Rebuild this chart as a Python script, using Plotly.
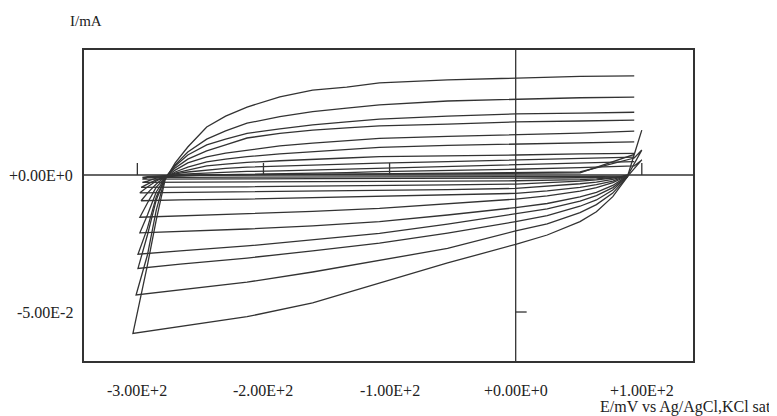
import plotly.graph_objects as go

# ---- data (E in mV, I in mA) ----
E_UPPER = [-292, -285, -278, -270, -260, -245, -230, -213, -187, -161, -134, -108, -54, 0, 51, 94, 100]
E_LOWER = [100, 89, 85, 77, 64, 51, 25, 0, -54, -108, -161, -213, -266]
E_VERTEX = [-303.5, -301, -299.5, -299.5, -298, -298, -297, -298, -297, -296, -296, -296]
I_VERTEX = [-0.0578, -0.0438, -0.0341, -0.0289, -0.0211, -0.0154, -0.0094, -0.0065, -0.0045, -0.0027, -0.0015, -0.0009]

lo1 = [None, -0.0004, -0.0029, -0.0079, -0.0134, -0.0170, -0.0219, -0.0253, -0.0321, -0.0395, -0.0467, -0.0517, -0.0554]
up1 = [-0.0329, -0.0164, -0.0018, 0.0044, 0.0102, 0.0175, 0.0215, 0.0248, 0.0285, 0.0310, 0.0321, 0.0336, 0.0347, 0.0355, 0.0360, 0.0362, None]
lo2 = [None, -0.0004, -0.0024, -0.0066, -0.0108, -0.0137, -0.0178, -0.0204, -0.0268, -0.0310, -0.0354, -0.0391, -0.0420]
up2 = [-0.0292, -0.0128, -0.0011, 0.0037, 0.0084, 0.0131, 0.0161, 0.0189, 0.0213, 0.0231, 0.0244, 0.0256, 0.0270, 0.0276, 0.0282, 0.0284, None]
lo3 = [None, -0.0004, -0.0020, -0.0055, -0.0091, -0.0114, -0.0148, -0.0170, -0.0212, -0.0249, -0.0277, -0.0303, -0.0325]
up3 = [-0.0219, -0.0091, -0.0011, 0.0033, 0.0073, 0.0110, 0.0131, 0.0152, 0.0168, 0.0183, 0.0194, 0.0204, 0.0215, 0.0223, 0.0226, 0.0229, None]
lo4 = [None, -0.0004, -0.0017, -0.0046, -0.0075, -0.0095, -0.0124, -0.0142, -0.0179, -0.0213, -0.0237, -0.0259, -0.0277]
up4 = [-0.0194, -0.0080, -0.0011, 0.0026, 0.0058, 0.0088, 0.0110, 0.0135, 0.0152, 0.0164, 0.0172, 0.0179, 0.0186, 0.0194, 0.0197, 0.0200, None]
lo5 = [None, -0.0004, -0.0014, -0.0038, -0.0063, -0.0080, -0.0104, -0.0119, -0.0146, -0.0170, -0.0186, -0.0197, -0.0206]
up5 = [-0.0146, -0.0062, -0.0011, 0.0018, 0.0044, 0.0066, 0.0080, 0.0091, 0.0106, 0.0116, 0.0126, 0.0134, 0.0141, 0.0146, 0.0153, 0.0160, None]
lo6 = [None, -0.0004, -0.0011, -0.0028, -0.0046, -0.0059, -0.0076, -0.0088, -0.0106, -0.0122, -0.0133, -0.0142, -0.0150]
up6 = [-0.0102, -0.0044, -0.0011, 0.0011, 0.0029, 0.0048, 0.0058, 0.0067, 0.0077, 0.0085, 0.0093, 0.0101, 0.0108, 0.0112, 0.0117, 0.0121, None]
lo7 = [None, -0.0004, -0.0008, -0.0022, -0.0035, -0.0045, -0.0058, -0.0067, -0.0073, -0.0078, -0.0084, -0.0088, -0.0091]
up7 = [-0.0066, -0.0033, -0.0007, 0.0007, 0.0018, 0.0033, 0.0040, 0.0046, 0.0052, 0.0058, 0.0062, 0.0067, 0.0069, 0.0073, 0.0077, 0.0079, None]
lo8 = [None, -0.0004, -0.0006, -0.0016, -0.0026, -0.0032, -0.0042, -0.0049, -0.0053, -0.0056, -0.0058, -0.0061, -0.0063]
up8 = [-0.0044, -0.0022, -0.0007, 0.0004, 0.0011, 0.0018, 0.0024, 0.0029, 0.0033, 0.0037, 0.0040, 0.0043, 0.0049, 0.0055, 0.0060, 0.0065, None]
lo9 = [None, -0.0004, -0.0004, -0.0011, -0.0018, -0.0022, -0.0028, -0.0033, -0.0036, -0.0039, -0.0041, -0.0043, -0.0044]
up9 = [-0.0033, -0.0018, -0.0007, 0.0000, 0.0004, 0.0007, 0.0010, 0.0013, 0.0015, 0.0018, 0.0021, 0.0025, 0.0031, 0.0037, 0.0044, 0.0049, None]
lo10 = [0.0055, -0.0003, -0.0006, -0.0010, -0.0014, -0.0017, -0.0019, -0.0021, -0.0022, -0.0023, -0.0024, -0.0025, -0.0026]
up10 = [-0.0022, -0.0011, -0.0006, -0.0004, -0.0002, 0.0000, 0.0001, 0.0002, 0.0004, 0.0007, 0.0009, 0.0012, 0.0016, 0.0021, 0.0027, 0.0033, 0.0055]
lo11 = [0.0091, 0.0000, -0.0007, -0.0008, -0.0009, -0.0010, -0.0011, -0.0011, -0.0012, -0.0013, -0.0013, -0.0014, -0.0014]
up11 = [-0.0009, -0.0006, -0.0004, -0.0002, -0.0001, 0.0000, 0.0000, 0.0001, 0.0002, 0.0002, 0.0003, 0.0004, 0.0006, 0.0007, 0.0011, 0.0062, 0.0091]
lo12 = [0.0164, 0.0000, -0.0004, -0.0005, -0.0005, -0.0006, -0.0006, -0.0006, -0.0007, -0.0007, -0.0008, -0.0008, -0.0009]
up12 = [-0.0006, -0.0003, -0.0002, -0.0001, 0.0000, 0.0000, 0.0001, 0.0001, 0.0002, 0.0002, 0.0003, 0.0003, 0.0004, 0.0005, 0.0008, 0.0075, 0.0164]

LOWER = [lo1, lo2, lo3, lo4, lo5, lo6, lo7, lo8, lo9, lo10, lo11, lo12]
UPPER = [up1, up2, up3, up4, up5, up6, up7, up8, up9, up10, up11, up12]

X_TICKS = [-300, -200, -100, 0, 100]
X_TICK_TEXT = ["-3.00E+2", "-2.00E+2", "-1.00E+2", "+0.00E+0", "+1.00E+2"]
Y_TICKS = [0, -0.05]
Y_TICK_TEXT = ["+0.00E+0", "-5.00E-2"]

X_RANGE = [-342.3, 140.6]
Y_RANGE = [-0.06788, 0.04562]

INK = "#333333"
TXT = "#222222"
FONT = "Liberation Serif"

fig = go.Figure()
for lo, up, ev, iv in zip(LOWER, UPPER, E_VERTEX, I_VERTEX):
    fig.add_trace(go.Scatter(
        x=E_LOWER + [ev] + E_UPPER,
        y=lo + [iv] + up,
        mode="lines",
        line=dict(color=INK, width=1.3),
        connectgaps=False,
        showlegend=False,
        hoverinfo="skip",
    ))

shapes = []
shapes.append(dict(type="line", xref="paper", yref="y", x0=0, x1=1, y0=0, y1=0,
                   line=dict(color=INK, width=1.3)))
shapes.append(dict(type="line", xref="x", yref="paper", x0=0, x1=0, y0=0, y1=1,
                   line=dict(color=INK, width=1.3)))
for xv in X_TICKS:
    if xv != 0:
        shapes.append(dict(type="line", xref="x", yref="y", x0=xv, x1=xv, y0=0, y1=0.0044,
                           line=dict(color=INK, width=1.3)))
for yv in Y_TICKS:
    if yv != 0:
        shapes.append(dict(type="line", xref="x", yref="y", x0=0, x1=8.7, y0=yv, y1=yv,
                           line=dict(color=INK, width=1.3)))

annotations = []
for xv, t in zip(X_TICKS, X_TICK_TEXT):
    annotations.append(dict(x=xv, y=0, xref="x", yref="paper", text=t, showarrow=False,
                            xanchor="center", yanchor="middle", yshift=-29,
                            font=dict(family=FONT, size=16, color=TXT)))
for yv, t in zip(Y_TICKS, Y_TICK_TEXT):
    annotations.append(dict(x=0, y=yv, xref="paper", yref="y", text=t, showarrow=False,
                            xanchor="right", yanchor="middle", xshift=-9,
                            font=dict(family=FONT, size=16, color=TXT)))
annotations.append(dict(x=0, y=1, xref="paper", yref="paper", text="I/mA", showarrow=False,
                        xanchor="left", yanchor="middle", xshift=-16, yshift=29,
                        font=dict(family=FONT, size=15, color=TXT)))
annotations.append(dict(x=1, y=0, xref="paper", yref="paper", text="E/mV vs Ag/AgCl,KCl sat",
                        showarrow=False, xanchor="right", yanchor="middle", xshift=79, yshift=-46,
                        borderpad=0, font=dict(family=FONT, size=16, color=TXT)))

fig.update_layout(
    width=769, height=408,
    margin=dict(l=76, r=84, t=42, b=55),
    paper_bgcolor="white", plot_bgcolor="white",
    shapes=shapes, annotations=annotations,
    xaxis=dict(range=X_RANGE, showgrid=False, zeroline=False, showticklabels=False,
               ticks="", showline=True, mirror=True, linecolor=INK, linewidth=1.5),
    yaxis=dict(range=Y_RANGE, showgrid=False, zeroline=False, showticklabels=False,
               ticks="", showline=True, mirror=True, linecolor=INK, linewidth=1.5),
)

fig.write_html("out.html")
